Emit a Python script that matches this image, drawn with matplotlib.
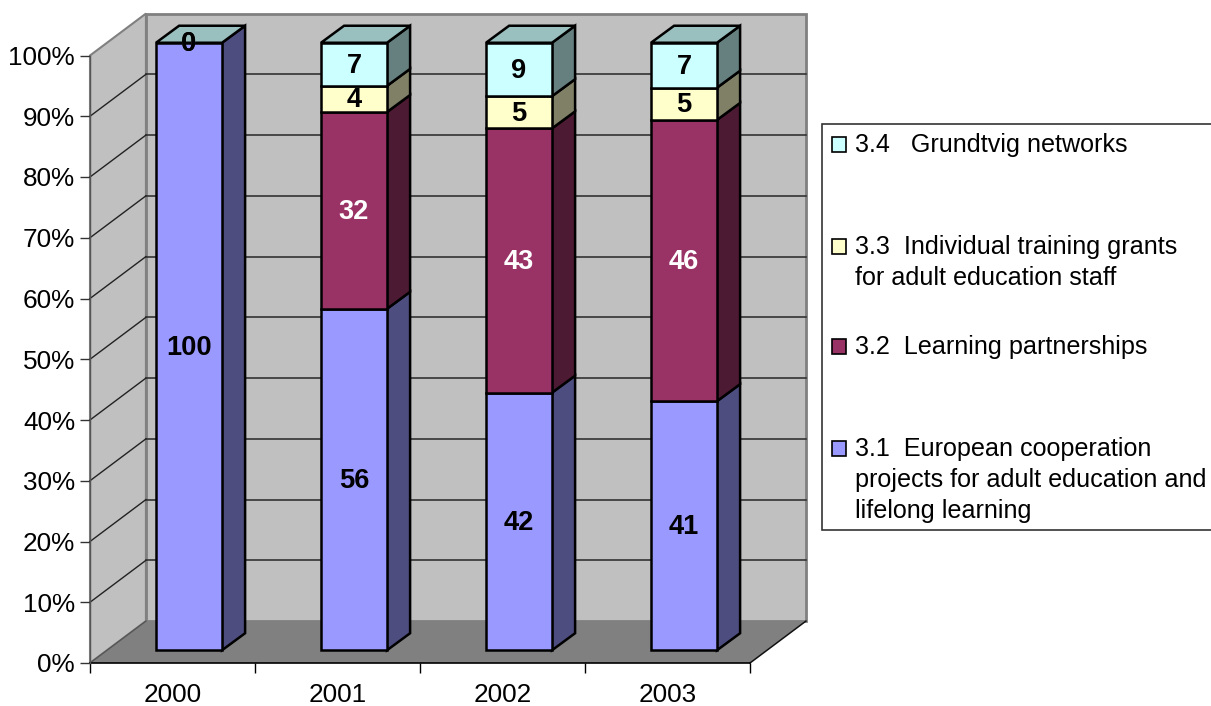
import matplotlib
matplotlib.use("Agg")
import matplotlib.pyplot as plt
from matplotlib.patches import Polygon, Rectangle
from matplotlib.transforms import Affine2D, offset_copy

plt.rcParams['font.family'] = ['Liberation Sans', 'DejaVu Sans']

years = ['2000', '2001', '2002', '2003']
# shares, labels show the rounded-down values
action_31 = [100, 56.2, 42.4, 41.0]
action_32 = [0, 32.4, 43.5, 46.3]
action_33 = [0, 4.3, 5.3, 5.3]
action_34 = [0, 7.1, 8.8, 7.4]
labels_31 = [100, 56, 42, 41]
labels_32 = [0, 32, 43, 46]
labels_33 = [0, 4, 5, 5]
labels_34 = [0, 7, 9, 7]
y_ticks = [0, 10, 20, 30, 40, 50, 60, 70, 80, 90, 100]

legend_names = [
    '3.4   Grundtvig networks',
    '3.3  Individual training grants\nfor adult education staff',
    '3.2  Learning partnerships',
    '3.1  European cooperation\nprojects for adult education and\nlifelong learning',
]

W, H = 1211, 706
TICK_FONT = 18.8
BAR_FONT = 19.6
LEGEND_FONT = 18.1

fig = plt.figure(figsize=(W / 100, H / 100), dpi=100, facecolor='white')
ax = fig.add_axes([90 / W, (H - 663) / H, 660 / W, 607.5 / H])
ax.set_xlim(0, 4)
ax.set_ylim(0, 100)
ax.patch.set_visible(False)

# depth of the box and of the bars, in data units
wall_dx, wall_dy = 0.339, 6.9
bar_x0, bar_w = 0.4, 0.4
bar_y0 = 2.1
bar_dx, bar_dy = 0.14, 2.8

# labels sit a little lower than the exact middle of a segment
label_trans = offset_copy(ax.transData, fig=fig, x=0, y=-1.5, units='dots')


def face(pts, fc, ec='black', lw=1.8, z=2):
    ax.add_patch(Polygon(pts, closed=True, facecolor=fc, edgecolor=ec, linewidth=lw,
                         joinstyle='miter', clip_on=False, zorder=z))


# walls and floor
face([(0, 0), (wall_dx, wall_dy), (wall_dx, 100 + wall_dy), (0, 100)], '#C0C0C0', ec='#808080', lw=1.5, z=1)
face([(wall_dx, wall_dy), (4 + wall_dx, wall_dy), (4 + wall_dx, 100 + wall_dy), (wall_dx, 100 + wall_dy)],
     '#C0C0C0', ec='#808080', lw=2, z=1)
face([(0, 0), (4, 0), (4 + wall_dx, wall_dy), (wall_dx, wall_dy)], '#808080', ec='none', lw=0, z=1.1)

for t in y_ticks[1:-1]:
    ax.plot([wall_dx, 4 + wall_dx], [t + wall_dy, t + wall_dy], color='#333333', lw=1.2, clip_on=False, zorder=1.2)
    ax.plot([0, wall_dx], [t, t + wall_dy], color='#222222', lw=1, clip_on=False, zorder=1.2)
ax.plot([0, wall_dx], [0, wall_dy], color='#555555', lw=1, clip_on=False, zorder=1.2)
ax.plot([4, 4 + wall_dx], [0, wall_dy], color='#111111', lw=1.1, clip_on=False, zorder=1.2)

# stacked bars
series = [
    (action_31, labels_31, '#9999FF', '#4D4D80', 'black'),
    (action_32, labels_32, '#993366', '#4D1A33', 'white'),
    (action_33, labels_33, '#FFFFCC', '#808066', 'black'),
    (action_34, labels_34, '#CCFFFF', '#668080', 'black'),
]
for i in range(len(years)):
    x0 = i + bar_x0
    x1 = x0 + bar_w
    bottom = bar_y0
    for values, labels, front, side, txt in series:
        top = bottom + values[i]
        if values[i] > 0:
            face([(x1, bottom), (x1 + bar_dx, bottom + bar_dy), (x1 + bar_dx, top + bar_dy), (x1, top)], side)
            face([(x0, bottom), (x1, bottom), (x1, top), (x0, top)], front, z=3)
        ax.text((x0 + x1) / 2, (bottom + top) / 2, str(labels[i]), color=txt, fontsize=BAR_FONT, fontweight='bold',
                ha='center', va='center', zorder=5, transform=label_trans)
        bottom = top
    face([(x0, bottom), (x1, bottom), (x1 + bar_dx, bottom + bar_dy), (x0 + bar_dx, bottom + bar_dy)], '#99BFBF', z=3)

# axes
ax.set_yticks(y_ticks)
ax.set_yticklabels([f'{t}%' for t in y_ticks], fontsize=TICK_FONT)
ax.set_xticks(range(5))
ax.set_xticklabels([])
ax.set_xticks([i + 0.5 for i in range(4)], labels=years, minor=True, fontsize=TICK_FONT)
ax.tick_params(axis='y', length=7.2, width=1, pad=3.6, color='#333333')
ax.tick_params(axis='x', which='major', length=7.2, width=1, color='black')
ax.tick_params(axis='x', which='minor', length=0, pad=14.6)
for s in ['top', 'right']:
    ax.spines[s].set_visible(False)
ax.spines['left'].set_color('#555555')
ax.spines['bottom'].set_color('black')
ax.spines['left'].set_linewidth(1)
ax.spines['bottom'].set_linewidth(1.2)
ax.spines['bottom'].set_zorder(1.5)

# legend is placed by hand, rows have uneven heights
px = Affine2D().scale(1, -1).translate(0, H)
fig.add_artist(Rectangle((822, 124), 420, 406, transform=px, facecolor='white', edgecolor='#333333', linewidth=1.2))
colors = ['#CCFFFF', '#FFFFCC', '#993366', '#9999FF']
row_base = [152, 254, 354, 456]
for name, color, base in zip(legend_names, colors, row_base):
    fig.add_artist(Rectangle((831.5, base - 15), 14.5, 15, transform=px, facecolor=color,
                             edgecolor='black', linewidth=1.2))
    for k, line in enumerate(name.split('\n')):
        fig.text(855, base + k * 31, line, transform=px, fontsize=LEGEND_FONT, color='black', ha='left', va='baseline')

plt.savefig('out.png', dpi=100)
plt.close()
